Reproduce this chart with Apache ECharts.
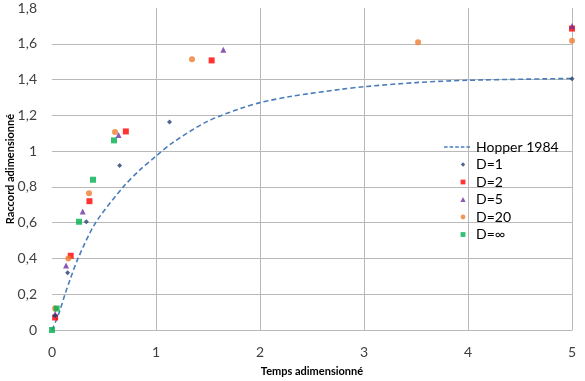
<!DOCTYPE html>
<html>
<head>
<meta charset="utf-8">
<script src="https://cdn.jsdelivr.net/npm/echarts@6/dist/echarts.min.js"></script>
<style>html,body{margin:0;padding:0;background:#fff}#c{width:585px;height:381px}</style>
</head>
<body>
<div id="c"></div>
<script>
// Hopper 1984 curve
const hopperX = [0, 0.067, 0.125, 0.173, 0.25, 0.42, 0.686, 0.846, 1, 1.167, 1.49, 1.81, 2, 2.29, 2.77, 3, 3.5, 4, 5];
const hopperY = [0, 0.094, 0.2, 0.28, 0.4, 0.6, 0.8, 0.895, 0.972, 1.05, 1.165, 1.238, 1.271, 1.305, 1.345, 1.36, 1.383, 1.396, 1.406];

const d1X = [0.03, 0.15, 0.33, 0.65, 1.13, 5];
const d1Y = [0.08, 0.32, 0.605, 0.92, 1.163, 1.404];

const d2X = [0.03, 0.18, 0.36, 0.71, 1.535, 5];
const d2Y = [0.07, 0.415, 0.72, 1.11, 1.507, 1.685];

const d5X = [0.03, 0.135, 0.295, 0.64, 1.647, 5];
const d5Y = [0.09, 0.36, 0.663, 1.09, 1.567, 1.70];

const d20X = [0.03, 0.157, 0.356, 0.606, 1.346, 3.52, 5];
const d20Y = [0.12, 0.40, 0.764, 1.107, 1.513, 1.608, 1.617];

const dInfX = [0, 0.045, 0.26, 0.394, 0.596];
const dInfY = [0, 0.12, 0.605, 0.84, 1.06];

const seriesNames = ['Hopper 1984', 'D=1', 'D=2', 'D=5', 'D=20', 'D=\u221E'];
const xTicks = [0, 1, 2, 3, 4, 5];
const yTicks = [0, 0.2, 0.4, 0.6, 0.8, 1, 1.2, 1.4, 1.6, 1.8];

function pairs(xs, ys) { return xs.map((x, i) => [x, ys[i]]); }
function fmt(v) { const r = Math.round(v * 10) / 10; return String(r).replace('.', ','); }

const FONT = 'Lato, "Open Sans", sans-serif';
const GRID = '#b9b9b9';

// legend icons: 28x5 box, small symbol centred at x=20
const BOX = 'path://M0,0M28,5';
const ICONS = {
  dash: BOX + 'M1,1.8H4.6V3.2H1Z M6.6,1.8H10.2V3.2H6.6Z M12.2,1.8H15.8V3.2H12.2Z M17.8,1.8H21.4V3.2H17.8Z M23.4,1.8H27V3.2H23.4Z',
  diamond: BOX + 'M20,0.3L22.2,2.5L20,4.7L17.8,2.5Z',
  rect: BOX + 'M17.6,0.1H22.4V4.9H17.6Z',
  triangle: BOX + 'M20,0.1L22.6,4.9L17.4,4.9Z',
  circle: BOX + 'M17.6,2.5A2.4,2.4 0 1 1 22.4,2.5A2.4,2.4 0 1 1 17.6,2.5Z'
};

const chart = echarts.init(document.getElementById('c'));
chart.setOption({
  animation: false,
  backgroundColor: '#fff',
  grid: { left: 52, right: 13, top: 8, bottom: 51, containLabel: false, outerBoundsMode: 'none' },
  xAxis: {
    type: 'value', min: xTicks[0], max: xTicks[xTicks.length - 1], interval: 1,
    name: 'Temps adimensionné', nameLocation: 'middle', nameGap: 36, nameMoveOverlap: false,
    nameTextStyle: { fontFamily: FONT, fontSize: 11, fontWeight: 'bold', color: '#000' },
    axisLine: { show: true, lineStyle: { color: GRID, width: 1 } },
    axisTick: { show: false },
    axisLabel: { fontFamily: FONT, fontSize: 14, color: '#404040', margin: 15, formatter: fmt },
    splitLine: { show: true, showMinLine: false, lineStyle: { color: GRID, width: 1 } }
  },
  yAxis: {
    type: 'value', min: yTicks[0], max: yTicks[yTicks.length - 1], interval: 0.2,
    name: 'Raccord adimensionné', nameLocation: 'middle', nameGap: 36, nameMoveOverlap: false,
    nameTextStyle: { fontFamily: FONT, fontSize: 11, fontWeight: 'bold', color: '#000' },
    axisLine: { show: false },
    axisTick: { show: false },
    axisLabel: { fontFamily: FONT, fontSize: 14, color: '#404040', margin: 15, formatter: fmt },
    splitLine: { show: true, showMaxLine: false, lineStyle: { color: GRID, width: 1 } }
  },
  legend: {
    orient: 'vertical', left: 438, top: 135,
    itemWidth: 28, itemHeight: 5, itemGap: 3.5,
    textStyle: { fontFamily: FONT, fontSize: 14, color: '#000' },
    data: [
      { name: seriesNames[0], icon: ICONS.dash },
      { name: seriesNames[1], icon: ICONS.diamond },
      { name: seriesNames[2], icon: ICONS.rect },
      { name: seriesNames[3], icon: ICONS.triangle },
      { name: seriesNames[4], icon: ICONS.circle },
      { name: seriesNames[5], icon: ICONS.rect }
    ]
  },
  series: [
    {
      name: seriesNames[0], type: 'line', data: pairs(hopperX, hopperY), smooth: 0.3,
      symbol: 'none', lineStyle: { color: '#4a7ebb', width: 1.6, type: [5, 3] },
      itemStyle: { color: '#4a7ebb' }, z: 1
    },
    { name: seriesNames[1], type: 'scatter', data: pairs(d1X, d1Y), symbol: 'diamond', symbolSize: 5, itemStyle: { color: '#243f6e' }, z: 5 },
    { name: seriesNames[2], type: 'scatter', data: pairs(d2X, d2Y), symbol: 'rect', symbolSize: 6, itemStyle: { color: '#ff0000' }, z: 3 },
    { name: seriesNames[3], type: 'scatter', data: pairs(d5X, d5Y), symbol: 'triangle', symbolSize: 6, itemStyle: { color: '#7030a0' }, z: 4 },
    { name: seriesNames[4], type: 'scatter', data: pairs(d20X, d20Y), symbol: 'circle', symbolSize: 6, itemStyle: { color: '#ed7d31' }, z: 3 },
    { name: seriesNames[5], type: 'scatter', data: pairs(dInfX, dInfY), symbol: 'rect', symbolSize: 6, itemStyle: { color: '#00b050' }, z: 3 }
  ]
});
</script>
</body>
</html>
